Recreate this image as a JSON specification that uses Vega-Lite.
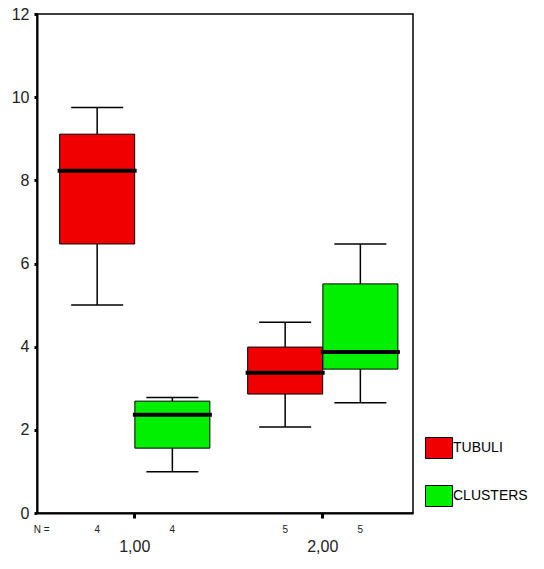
{
  "$schema": "https://vega.github.io/schema/vega-lite/v6.json",
  "width": 376,
  "height": 499,
  "autosize": "none",
  "padding": {"left": 37, "top": 14, "right": 131, "bottom": 56},
  "background": "white",
  "config": {
    "view": {"stroke": "black", "strokeWidth": 1.5},
    "font": "Liberation Sans"
  },
  "data": {
    "values": [
      {"group": "1,00", "series": "TUBULI", "lower": 5.0, "q1": 6.47, "median": 8.23, "q3": 9.11, "upper": 9.75, "n": "4"},
      {"group": "1,00", "series": "CLUSTERS", "lower": 0.99, "q1": 1.56, "median": 2.36, "q3": 2.69, "upper": 2.78, "n": "4"},
      {"group": "2,00", "series": "TUBULI", "lower": 2.07, "q1": 2.86, "median": 3.37, "q3": 3.99, "upper": 4.59, "n": "5"},
      {"group": "2,00", "series": "CLUSTERS", "lower": 2.65, "q1": 3.46, "median": 3.87, "q3": 5.51, "upper": 6.47, "n": "5"}
    ]
  },
  "encoding": {
    "x": {
      "field": "group",
      "type": "nominal",
      "scale": {"paddingInner": 0.2, "paddingOuter": 0.1, "align": 0.6},
      "axis": {
        "title": null,
        "labelAngle": 0,
        "labelFontSize": 16,
        "labelColor": "#222",
        "labelPadding": 20,
        "tickSize": 5,
        "tickWidth": 3,
        "tickColor": "black",
        "domainColor": "black",
        "domainWidth": 2
      }
    },
    "xOffset": {
      "field": "series",
      "type": "nominal",
      "sort": ["TUBULI", "CLUSTERS"],
      "scale": {"paddingInner": 0, "paddingOuter": 0}
    }
  },
  "layer": [
    {
      "mark": {"type": "rule", "color": "black", "strokeWidth": 1.5},
      "encoding": {
        "y": {
          "field": "lower",
          "type": "quantitative",
          "scale": {"domain": [0, 12], "nice": false, "zero": false},
          "axis": {
            "title": null,
            "values": [0, 2, 4, 6, 8, 10, 12],
            "grid": false,
            "labelFontSize": 16,
            "labelColor": "#222",
            "labelPadding": 5,
            "tickSize": 3,
            "tickWidth": 3,
            "tickColor": "black",
            "domainColor": "black",
            "domainWidth": 2
          }
        },
        "y2": {"field": "upper"}
      }
    },
    {
      "mark": {"type": "bar", "stroke": "black", "strokeWidth": 1, "width": 75, "opacity": 1},
      "encoding": {
        "y": {"field": "q1", "type": "quantitative"},
        "y2": {"field": "q3"},
        "color": {
          "field": "series",
          "type": "nominal",
          "sort": ["TUBULI", "CLUSTERS"],
          "scale": {"domain": ["TUBULI", "CLUSTERS"], "range": ["#f00000", "#00f000"]},
          "legend": {
            "title": null,
            "orient": "none",
            "legendX": 391,
            "legendY": 423,
            "padding": 0,
            "symbolType": "M-1.29,-1H1.29V1H-1.29Z",
            "symbolSize": 441,
            "symbolStrokeColor": "black",
            "symbolStrokeWidth": 1,
            "symbolOpacity": 1,
            "labelFontSize": 14,
            "labelColor": "black",
            "labelOffset": 3,
            "rowPadding": 22
          }
        }
      }
    },
    {
      "mark": {"type": "tick", "color": "black", "opacity": 1, "size": 52, "thickness": 1.5, "orient": "horizontal"},
      "encoding": {"y": {"field": "lower", "type": "quantitative"}}
    },
    {
      "mark": {"type": "tick", "color": "black", "opacity": 1, "size": 52, "thickness": 1.5, "orient": "horizontal"},
      "encoding": {"y": {"field": "upper", "type": "quantitative"}}
    },
    {
      "mark": {"type": "tick", "color": "black", "opacity": 1, "size": 79, "thickness": 4, "orient": "horizontal"},
      "encoding": {"y": {"field": "median", "type": "quantitative"}}
    },
    {
      "mark": {"type": "text", "fontSize": 10, "color": "#222", "baseline": "middle", "clip": false},
      "encoding": {
        "y": {"datum": -0.41},
        "text": {"field": "n"}
      }
    },
    {
      "data": {"values": [{"label": "N ="}]},
      "mark": {"type": "text", "fontSize": 10, "color": "#222", "baseline": "middle", "align": "center", "dx": -93, "clip": false},
      "encoding": {
        "x": {"datum": "1,00"},
        "xOffset": null,
        "y": {"datum": -0.41},
        "text": {"field": "label"}
      }
    }
  ]
}
